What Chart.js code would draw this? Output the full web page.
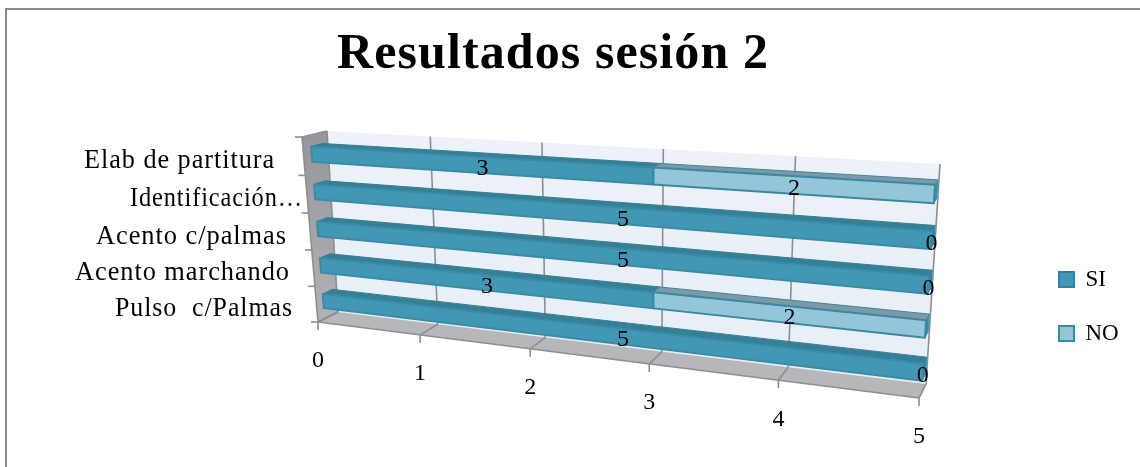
<!DOCTYPE html>
<html>
<head>
<meta charset="utf-8">
<style>
html,body{margin:0;padding:0;background:#fff}
#wrap{width:1140px;height:467px;position:relative}
</style>
<script src="https://cdn.jsdelivr.net/npm/chart.js@4/dist/chart.umd.min.js"></script>
</head>
<body>
<div id="wrap"><canvas id="c" width="1140" height="467"></canvas></div>
<script>
const categories = ['Elab de partitura', 'Identificación…', 'Acento c/palmas', 'Acento marchando', 'Pulso  c/Palmas'];
const siValues = [3, 5, 5, 3, 5];
const noValues = [2, 0, 0, 2, 0];
const valueTicks = [0, 1, 2, 3, 4, 5];

const FONT = '"Liberation Serif", serif';
const categoryRightEdges = [275, 303, 287, 290, 293];
const categoryMaxWidths = [191, 173, 191, 215, 178];

// Corners of the box in screen space: front plane and back wall.
const frontQuad = {bl: [318, 322], br: [919, 398], tr: [934, 174], tl: [302, 137]};
const backQuad  = {bl: [338, 312], br: [926, 384], tr: [940, 164], tl: [327, 131]};
const barDepth = [0.33, 0.8];

// Unit square to quadrilateral homography.
function homography(q) {
  const [x0, y0] = q.bl, [x1, y1] = q.br, [x2, y2] = q.tr, [x3, y3] = q.tl;
  const dx1 = x1 - x2, dx2 = x3 - x2, sx = x0 - x1 + x2 - x3;
  const dy1 = y1 - y2, dy2 = y3 - y2, sy = y0 - y1 + y2 - y3;
  const det = dx1 * dy2 - dx2 * dy1;
  const g = (sx * dy2 - dx2 * sy) / det;
  const h = (dx1 * sy - sx * dy1) / det;
  const a = x1 - x0 + g * x1, b = x3 - x0 + h * x3, c = x0;
  const d = y1 - y0 + g * y1, e = y3 - y0 + h * y3, f = y0;
  return (u, v) => {
    const w = g * u + h * v + 1;
    return [(a * u + b * v + c) / w, (d * u + e * v + f) / w];
  };
}
const frontMap = homography(frontQuad);
const backMap = homography(backQuad);

// u: share of the value axis, v: share of the category axis (0 = bottom), d: depth.
function project(u, v, d) {
  const p = frontMap(u, v), q = backMap(u, v);
  return [p[0] + (q[0] - p[0]) * d, p[1] + (q[1] - p[1]) * d];
}

function poly(ctx, pts, fill, stroke, lw) {
  ctx.beginPath();
  pts.forEach((p, i) => i ? ctx.lineTo(p[0], p[1]) : ctx.moveTo(p[0], p[1]));
  ctx.closePath();
  if (fill) { ctx.fillStyle = fill; ctx.fill(); }
  if (stroke) { ctx.strokeStyle = stroke; ctx.lineWidth = lw || 1; ctx.lineJoin = 'round'; ctx.stroke(); }
}
function line(ctx, a, b, color, lw) {
  ctx.beginPath();
  ctx.moveTo(a[0], a[1]);
  ctx.lineTo(b[0], b[1]);
  ctx.strokeStyle = color;
  ctx.lineWidth = lw;
  ctx.stroke();
}

const GRID = '#8e8e8e';
const faces = [
  {front: '#4198B5', top: '#357F97', side: '#357F97', edge: '#3A8BA6'},
  {front: '#94C6D9', top: '#7E98A5', side: '#3F8DA8', edge: '#3A88A2'}
];

const scene = {
  id: 'scene',
  // Title and legend sit off the default slots of the layout.
  afterLayout(chart) {
    const t = chart.titleBlock, l = chart.legend, pad = l.options.labels.padding;
    t.left -= 10; t.right -= 10;
    if (!t.spaced) {
      const drawTitle = t.draw;
      t.draw = function () {
        this.ctx.letterSpacing = '1.1px';
        drawTitle.call(this);
        this.ctx.letterSpacing = '0px';
      };
      t.spaced = true;
    }
    l.left = 1059 - pad;
    l.right = 1140;
    l.top = 268 - pad;
    l.bottom = 467;
  },
  beforeDatasetsDraw(chart) {
    const ctx = chart.ctx, area = chart.chartArea;
    const xs = chart.scales.x, ys = chart.scales.y;
    const uOf = val => (xs.getPixelForValue(val) - area.left) / area.width;
    ctx.save();

    // Outer frame: left and top edges only
    ctx.strokeStyle = '#8a8a8a';
    ctx.lineWidth = 2;
    ctx.beginPath();
    ctx.moveTo(6, 467); ctx.lineTo(6, 9); ctx.lineTo(1140, 9);
    ctx.stroke();

    // Walls
    const wallGrad = ctx.createLinearGradient(0, 131, 0, 378);
    wallGrad.addColorStop(0, '#EDF2F8');
    wallGrad.addColorStop(1, '#E7EEF6');
    poly(ctx, [project(0,1,1), project(1,1,1), project(1,0,1), project(0,0,1)], wallGrad);
    const sideGrad = ctx.createLinearGradient(0, 131, 0, 322);
    sideGrad.addColorStop(0, '#96969A');
    sideGrad.addColorStop(1, '#B0B2B6');
    poly(ctx, [project(0,1,0), project(0,1,1), project(0,0,1), project(0,0,0)], sideGrad);
    poly(ctx, [project(0,0,0), project(0,0,1), project(1,0,1), project(1,0,0)], '#B5B7BA');

    // Value gridlines along the floor and back wall, with ticks below the front edge
    valueTicks.forEach(val => {
      const u = uOf(val);
      const f = project(u, 0, 0), b = project(u, 0, 1), t = project(u, 1, 1);
      line(ctx, f, b, GRID, 1.6);
      line(ctx, b, t, GRID, 1.6);
      line(ctx, f, [f[0], f[1] + 8], GRID, 1.6);
    });
    // Category boundaries: tick marks at the front of the side wall
    const n = categories.length;
    for (let i = 0; i <= n; i++) {
      const p = project(0, i / n, 0);
      line(ctx, p, [p[0] - 7, p[1]], GRID, 1.6);
    }
    // Box edges
    line(ctx, project(0,1,0), project(0,0,0), GRID, 1.6);
    line(ctx, project(0,1,0), project(0,1,1), GRID, 1.6);
    line(ctx, project(0,0,0), project(1,0,0), GRID, 1.6);
    line(ctx, project(0,0,0), project(0,0,1), GRID, 1.6);
    line(ctx, project(1,0,0), project(1,0,1), GRID, 1.6);

    // Bars: each Chart.js element supplies its extent, then gets drawn as a prism
    chart.data.datasets.forEach((ds, di) => {
      const meta = chart.getDatasetMeta(di), col = faces[di];
      meta.data.forEach((bar, i) => {
        if (ds.data[i] === 0) return;
        const p = bar.getProps(['x', 'y', 'base', 'height'], true);
        const u0 = (p.base - area.left) / area.width, u1 = (p.x - area.left) / area.width;
        const v1 = (area.bottom - (p.y - p.height / 2)) / area.height;
        const v0 = (area.bottom - (p.y + p.height / 2)) / area.height;
        const [d0, d1] = barDepth;
        poly(ctx, [project(u0,v1,d0), project(u0,v1,d1), project(u1,v1,d1), project(u1,v1,d0)], col.top, di ? col.edge : col.top, 1);
        poly(ctx, [project(u1,v1,d0), project(u1,v1,d1), project(u1,v0,d1), project(u1,v0,d0)], col.side, col.side, 1);
        poly(ctx, [project(u0,v1,d0), project(u1,v1,d0), project(u1,v0,d0), project(u0,v0,d0)], col.front, col.edge, 2);
      });
    });

    // Texts that follow the projected axes
    ctx.fillStyle = '#000';
    ctx.textBaseline = 'middle';
    ctx.font = '24px ' + FONT;
    ctx.textAlign = 'center';
    valueTicks.forEach(val => {
      const f = project(uOf(val), 0, 0);
      ctx.fillText(String(val), f[0], f[1] + 39);
    });
    // Data labels sit halfway between the projected ends of each segment
    chart.data.datasets.forEach((ds, di) => {
      const meta = chart.getDatasetMeta(di);
      meta.data.forEach((bar, i) => {
        const p = bar.getProps(['x', 'y', 'base'], true);
        const v = (area.bottom - p.y) / area.height;
        const a = project((p.base - area.left) / area.width, v, barDepth[0]);
        const b = project((p.x - area.left) / area.width, v, barDepth[0]);
        ctx.fillText(String(ds.data[i]), (a[0] + b[0]) / 2, (a[1] + b[1]) / 2 + 3.5);
      });
    });
    ctx.font = '26.5px ' + FONT;
    ctx.letterSpacing = '0.95px';
    ctx.textAlign = 'right';
    categories.forEach((label, i) => {
      const pix = ys.getPixelForValue(i);
      const p = project(0, (area.bottom - pix) / area.height, 0);
      ctx.fillText(label, categoryRightEdges[i], p[1] + 5, categoryMaxWidths[i]);
    });
    ctx.letterSpacing = '0px';
    ctx.restore();
    return false;
  }
};

new Chart(document.getElementById('c'), {
  type: 'bar',
  plugins: [scene],
  data: {
    labels: categories,
    datasets: [
      {label: 'SI', data: siValues, backgroundColor: faces[0].front, borderColor: faces[0].top, borderWidth: 2, stack: 's'},
      {label: 'NO', data: noValues, backgroundColor: faces[1].front, borderColor: faces[1].edge, borderWidth: 2, stack: 's'}
    ]
  },
  options: {
    responsive: false,
    animation: false,
    indexAxis: 'y',
    categoryPercentage: 0.4,
    barPercentage: 1,
    layout: {padding: {top: 25, right: 24, bottom: 60, left: 10}},
    scales: {
      x: {display: false, stacked: true, min: 0, max: 5, ticks: {stepSize: 1}},
      y: {display: false, stacked: true}
    },
    plugins: {
      title: {display: true, text: 'Resultados sesión 2', color: '#000', font: {family: FONT, size: 50, weight: 'bold'}, padding: {top: 0, bottom: 10}},
      legend: {
        position: 'right',
        align: 'start',
        onClick: null,
        labels: {boxWidth: 15, boxHeight: 15, padding: 31, color: '#000', font: {family: FONT, size: 23}}
      },
      tooltip: {enabled: false}
    }
  }
});
</script>
</body>
</html>
